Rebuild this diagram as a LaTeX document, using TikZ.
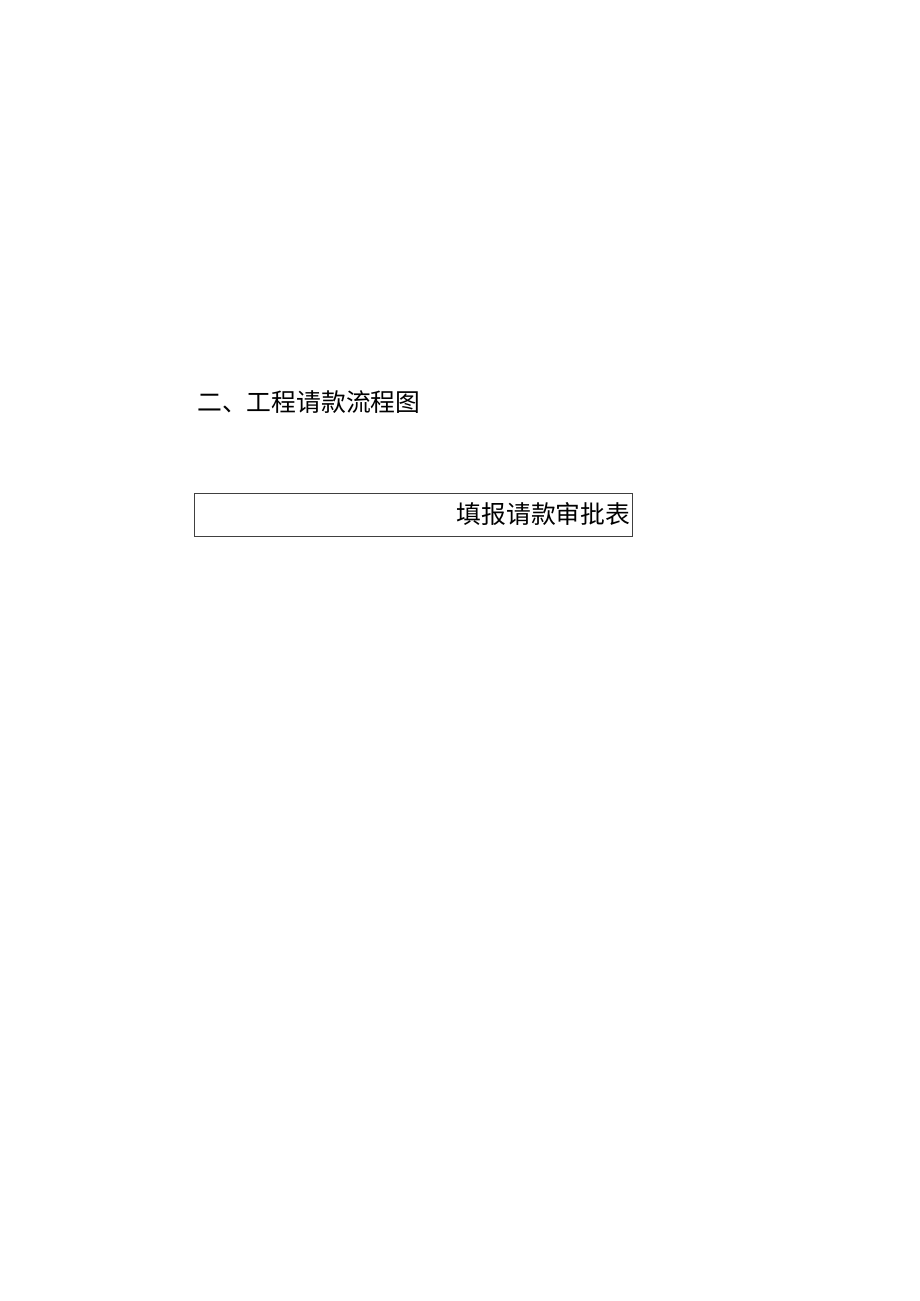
\documentclass[tikz,border=0pt]{standalone}
\usepackage{fontspec}
\newfontfamily\cjk{Noto Sans CJK SC}
\begin{document}
\begin{tikzpicture}[x=1pt,y=-1pt,
  titletext/.style={font=\cjk\fontsize{24.8}{28}\selectfont, inner sep=0pt, anchor=west},
  formbox/.style={draw=black!75, line width=0.8pt, rectangle, minimum width=438pt, minimum height=43pt,
    text width=433pt, align=right, inner sep=0pt, font=\cjk\fontsize{24.8}{28}\selectfont}]
\useasboundingbox[fill=white] (0,0) rectangle (920,1301);
\node[titletext] (title) at (197,402) {二、工程请款流程图};
\node[formbox] (fill) at (413.8,514.5) {填报请款审批表};
\end{tikzpicture}
\end{document}
